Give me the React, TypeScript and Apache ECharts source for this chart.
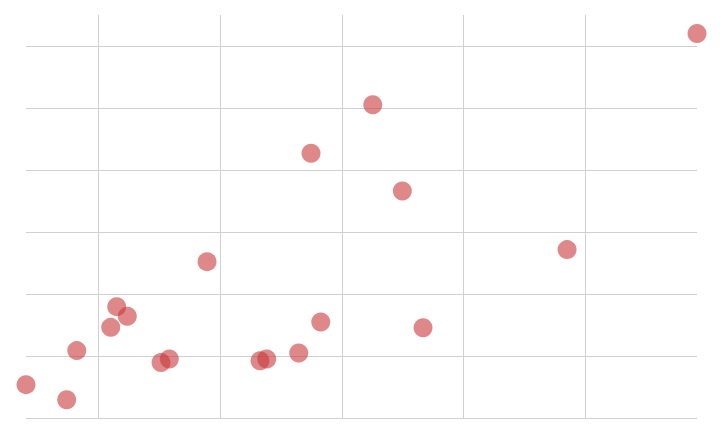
import React, { useEffect, useRef } from 'react';
import * as echarts from 'echarts';

// x / y values
const xValues = [4.06, 7.4, 8.23, 11.02, 11.51, 12.38, 15.15, 15.83, 18.93, 23.28, 23.83, 26.46, 27.47, 28.27, 32.54, 34.97, 36.67, 48.5, 59.17];
const yValues = [5.38, 2.95, 10.87, 14.62, 17.96, 16.4, 8.95, 9.53, 25.22, 9.25, 9.53, 10.5, 42.69, 15.5, 50.54, 36.62, 14.55, 27.16, 62.0];

const X_MIN = 4.06;
const X_MAX = 59.17;
const Y_MIN = 0;
const Y_MAX = 65;

const gridLine = { color: '#d0d0d0', width: 1 };

const App: React.FC = () => {
  const chartRef = useRef<HTMLDivElement>(null);

  useEffect(() => {
    if (!chartRef.current) return;
    const chart = echarts.init(chartRef.current, undefined, { renderer: 'svg' });

    const option: echarts.EChartsOption = {
      animation: false,
      grid: { left: 26, right: 26, top: 15, bottom: 29 },
      xAxis: {
        type: 'value',
        min: X_MIN,
        max: X_MAX,
        splitNumber: 5,
        axisLine: { show: false },
        axisTick: { show: false },
        axisLabel: { show: false },
        splitLine: { show: true, lineStyle: gridLine, showMinLine: false, showMaxLine: false } as any
      },
      yAxis: {
        type: 'value',
        min: Y_MIN,
        max: Y_MAX,
        interval: 10,
        axisLine: { show: false },
        axisTick: { show: false },
        axisLabel: { show: false },
        splitLine: { show: true, lineStyle: gridLine, showMinLine: true, showMaxLine: false } as any
      },
      series: [
        {
          type: 'scatter',
          data: xValues.map((x, i) => [x, yValues[i]]),
          symbol: 'circle',
          symbolSize: 19,
          itemStyle: { color: '#c8393a', opacity: 0.6 }
        }
      ]
    };

    chart.setOption(option);

    return () => {
      chart.dispose();
    };
  }, []);

  return (
    <div
      ref={chartRef}
      style={{ position: 'absolute', left: 0, top: 0, width: 723, height: 447 }}
    />
  );
};

export default App;
